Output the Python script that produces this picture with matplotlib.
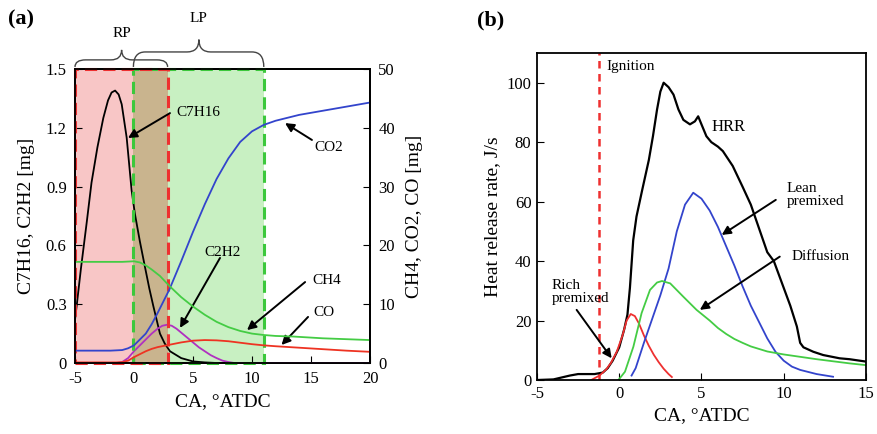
import matplotlib
matplotlib.use('Agg')
import matplotlib.pyplot as plt
from matplotlib.path import Path
from matplotlib.patches import PathPatch, Rectangle

plt.rcParams['font.family'] = ['Liberation Serif', 'DejaVu Serif']
plt.rcParams['axes.unicode_minus'] = False

# ---- panel (a): species mass vs crank angle ----
ca_c7h16 = [-5, -4.86, -4.5, -4.0, -3.6, -3.1, -2.6, -2.2, -1.9, -1.6, -1.3, -1.04, -0.62, -0.2,
            0.08, 0.5, 0.93, 1.3, 1.64, 2.2, 2.6, 3.05, 4.0, 5.0, 6.0, 7.0, 8.0, 20]
c7h16 = [0.22, 0.29, 0.48, 0.72, 0.92, 1.1, 1.25, 1.34, 1.38, 1.39, 1.37, 1.32, 1.15, 0.88,
         0.76, 0.62, 0.49, 0.38, 0.29, 0.15, 0.1, 0.06, 0.025, 0.008, 0.003, 0.0, 0.0, 0.0]

ca_c2h2 = [-5, -1.5, -1.0, -0.5, 0.0, 0.5, 1.0, 1.5, 2.0, 2.4, 2.8, 3.2, 3.6, 4.0, 4.5,
           5.0, 5.5, 6.0, 6.5, 7.0, 7.5, 8.0, 8.5, 20]
c2h2 = [0.0, 0.0, 0.005, 0.025, 0.06, 0.09, 0.12, 0.15, 0.175, 0.19, 0.195, 0.19, 0.175, 0.155, 0.13,
        0.105, 0.08, 0.06, 0.04, 0.025, 0.012, 0.005, 0.0, 0.0]

ca_co2 = [-5, -2, -1, -0.5, 0.0, 0.5, 1.0, 1.5, 2.0, 3.0, 4.0, 5.0, 6.0, 7.0, 8.0, 9.0,
          10.0, 11.0, 12.0, 14.0, 16.0, 18.0, 20.0]
co2 = [2.1, 2.1, 2.2, 2.5, 3.0, 4.0, 5.0, 6.6, 8.5, 12.5, 17.3, 22.3, 27.0, 31.3, 34.8, 37.6,
       39.4, 40.5, 41.2, 42.2, 42.9, 43.6, 44.3]

ca_ch4 = [-5, -2, -1, 0.0, 0.5, 1.0, 1.5, 2.2, 3.0, 4.0, 5.0, 6.0, 7.0, 8.0, 9.0, 10.0,
          11.0, 12.0, 13.5, 16.0, 20.0]
ch4 = [17.2, 17.2, 17.2, 17.3, 17.1, 16.6, 15.9, 14.8, 13.1, 11.2, 9.6, 8.2, 7.0, 6.1, 5.45, 5.0,
       4.76, 4.6, 4.5, 4.2, 3.9]

ca_co = [-5, -1.5, -1.0, -0.5, 0.0, 0.5, 1.0, 1.5, 2.0, 3.0, 4.0, 5.0, 6.0, 7.0, 8.0, 9.0,
         10.0, 11.0, 12.0, 14.0, 16.0, 18.0, 20.0]
co = [0.1, 0.1, 0.15, 0.4, 1.0, 1.5, 2.0, 2.4, 2.7, 3.1, 3.5, 3.8, 3.9, 3.85, 3.7, 3.45,
      3.2, 3.0, 2.85, 2.6, 2.35, 2.1, 1.9]

# combustion phase windows (crank angle)
rp_start, rp_end = -5.0, 2.85
lp_start, lp_end = -0.05, 11.0

# ---- panel (b): heat release rate ----
ca_hrr = [-5, -4, -3, -2.5, -1.5, -1.0, -0.7, -0.4, 0.0, 0.3, 0.5, 0.65, 0.85, 1.05, 1.4, 1.8,
          2.05, 2.3, 2.5, 2.7, 3.0, 3.3, 3.6, 3.9, 4.3, 4.6, 4.8, 5.0, 5.3, 5.6, 6.0, 6.3,
          6.9, 7.5, 8.0, 8.5, 9.0, 9.4, 10.0, 10.4, 10.8, 11.0, 11.2, 11.8, 12.4, 13.4, 14.0, 15.0]
hrr = [0, 0.2, 1.5, 2.0, 2.0, 2.5, 4, 6.5, 11, 17, 22, 31, 47, 55, 64, 74,
       82, 91, 97, 100, 98.5, 96, 91, 87.5, 86, 87, 88.7, 86, 82, 80, 78.5, 77,
       72, 65, 59, 51, 43, 40, 31, 25, 18, 12.5, 11, 9.5, 8.4, 7.3, 7.0, 6.2]

ca_rich = [-1.7, -1.2, -0.8, -0.5, -0.15, 0.2, 0.45, 0.7, 0.95, 1.2, 1.5, 1.8, 2.1, 2.4, 2.7, 3.0, 3.2]
rich = [0, 1.5, 3.5, 5.8, 9.5, 15, 20, 22.2, 21.5, 19, 15, 11.5, 8.5, 6, 3.8, 2, 1]

ca_lean = [0.75, 1.0, 1.5, 2.0, 2.5, 3.0, 3.5, 4.0, 4.5, 5.0, 5.5, 6.0, 6.5, 7.0, 7.5, 8.0,
           8.5, 9.0, 9.5, 10.0, 10.5, 11.0, 12.0, 13.0]
lean = [1.5, 4, 12.5, 20.5, 28.5, 37.5, 50, 59, 63, 61, 57, 51.5, 45, 38.5, 31.5, 25,
        19.5, 14, 9.5, 6.5, 4.5, 3.4, 2.0, 1.1]

ca_diff = [-0.05, 0.35, 0.86, 1.36, 1.87, 2.3, 2.6, 3.1, 3.9, 4.7, 5.5, 6.0, 6.5, 7.0, 7.5,
           8.0, 9.0, 10.0, 11.0, 12.0, 13.0, 14.0, 15.0]
diff = [0, 2.8, 11.2, 22.5, 30.3, 32.8, 33.3, 32.5, 28, 23.6, 20, 17.5, 15.5, 13.8, 12.5,
        11.3, 9.6, 8.6, 7.8, 7.0, 6.3, 5.6, 5.0]

ignition_ca = -1.2


def draw_brace(ax, x0, x1, xm, y0, y1, y2, r):
    """Curly brace between x0 and x1 (data), y in axes fraction"""
    verts = [(x0, y0), (x0, y1), (x0 + r, y1),
             (xm - r, y1), (xm, y1), (xm, y2),
             (xm, y1), (xm + r, y1),
             (x1 - r, y1), (x1, y1), (x1, y0)]
    codes = [Path.MOVETO, Path.CURVE3, Path.CURVE3,
             Path.LINETO, Path.CURVE3, Path.CURVE3,
             Path.CURVE3, Path.CURVE3,
             Path.LINETO, Path.CURVE3, Path.CURVE3]
    patch = PathPatch(Path(verts, codes), fill=False, lw=1.0, color='#444444',
                      transform=ax.get_xaxis_transform(), clip_on=False)
    ax.add_patch(patch)


fig = plt.figure(figsize=(8.77, 4.34), dpi=100)

# ---------------- (a) ----------------
ax = fig.add_axes([0.0855, 0.1636, 0.3364, 0.6774])
ax.axvspan(rp_start, lp_start, color='#f8c6c6', lw=0, zorder=0)
ax.axvspan(lp_start, rp_end, color='#c9b48e', lw=0, zorder=0)
ax.axvspan(rp_end, lp_end, color='#c8f0c2', lw=0, zorder=0)

ax.plot(ca_c7h16, c7h16, color='black', lw=1.3, zorder=3)
ax.plot(ca_c2h2, c2h2, color='#b030c0', lw=1.3, zorder=3)
ax.add_patch(Rectangle((lp_start, 0), lp_end - lp_start, 1.5, fill=False, ls=(0, (4, 2)),
                       lw=2.2, ec='#3cc83c', zorder=4, clip_on=False))
ax.add_patch(Rectangle((rp_start, 0), rp_end - rp_start, 1.5, fill=False, ls=(0, (4, 2)),
                       lw=2.2, ec='#ee3030', zorder=5, clip_on=False))
ax.set_xlim(-5, 20)
ax.set_ylim(0, 1.5)
ax.set_xticks([-5, 0, 5, 10, 15, 20])
ax.set_yticks([0, 0.3, 0.6, 0.9, 1.2, 1.5])
ax.set_yticklabels(['0', '0.3', '0.6', '0.9', '1.2', '1.5'])
ax.tick_params(direction='in', length=5, labelsize=12, pad=6)
ax.set_xlabel('CA, °ATDC', fontsize=14, labelpad=4)
ax.set_ylabel('C7H16, C2H2 [mg]', fontsize=14, labelpad=8)

ax2 = ax.twinx()
ax2.plot(ca_co2, co2, color='#3344cc', lw=1.3)
ax2.plot(ca_ch4, ch4, color='#44cc44', lw=1.3)
ax2.plot(ca_co, co, color='#ee3322', lw=1.3)
ax2.set_ylim(0, 50)
ax2.set_yticks([0, 10, 20, 30, 40, 50])
ax2.tick_params(direction='in', length=5, labelsize=12, pad=6)
ax2.set_ylabel('CH4, CO2, CO [mg]', fontsize=14, labelpad=8)
for a in (ax, ax2):
    for s in a.spines.values():
        s.set_linewidth(1.3)

arrow = dict(arrowstyle='-|>', color='black', lw=1.4, mutation_scale=13, shrinkA=0, shrinkB=0)
ax.annotate('', xy=(-0.51, 1.148), xytext=(3.05, 1.275), arrowprops=arrow, zorder=6)
ax.text(3.6, 1.28, 'C7H16', fontsize=11, va='center', ha='left', zorder=6)
ax.annotate('', xy=(12.8, 1.224), xytext=(15.08, 1.138), arrowprops=arrow, zorder=6)
ax.text(15.3, 1.097, 'CO2', fontsize=11, va='center', ha='left')
ax.annotate('', xy=(3.9, 0.179), xytext=(7.29, 0.536), arrowprops=arrow, zorder=6)
ax.text(6.0, 0.566, 'C2H2', fontsize=11, va='center', ha='left', zorder=6)
ax.annotate('', xy=(9.58, 0.168), xytext=(14.5, 0.413), arrowprops=arrow, zorder=6)
ax.text(15.1, 0.423, 'CH4', fontsize=11, va='center', ha='left')
ax.annotate('', xy=(12.5, 0.092), xytext=(14.75, 0.235), arrowprops=arrow, zorder=6)
ax.text(15.2, 0.26, 'CO', fontsize=11, va='center', ha='left')

draw_brace(ax, rp_start, rp_end, -1.05, 1.007, 1.031, 1.065, 0.9)
draw_brace(ax, lp_start, lp_end, 5.5, 1.007, 1.058, 1.10, 1.0)
ax.text(-1.05, 1.122, 'RP', fontsize=11, ha='center', va='center', transform=ax.get_xaxis_transform())
ax.text(5.5, 1.173, 'LP', fontsize=11, ha='center', va='center', transform=ax.get_xaxis_transform())
fig.text(21 / 877, 1 - 19 / 434, '(a)', fontsize=16, fontweight='bold', ha='center', va='center')

# ---------------- (b) ----------------
bx = fig.add_axes([0.6123, 0.1244, 0.3751, 0.7535])
bx.axvline(ignition_ca, color='#ee3030', lw=1.8, ls=(0, (3, 2.2)))
bx.plot(ca_hrr, hrr, color='black', lw=1.6)
bx.plot(ca_rich, rich, color='#ee3030', lw=1.3)
bx.plot(ca_lean, lean, color='#3344cc', lw=1.3)
bx.plot(ca_diff, diff, color='#44cc44', lw=1.3)
bx.set_xlim(-5, 15)
bx.set_ylim(0, 110)
bx.set_xticks([-5, 0, 5, 10, 15])
bx.set_yticks([0, 20, 40, 60, 80, 100])
bx.tick_params(direction='in', length=5, labelsize=12, pad=4)
for s in bx.spines.values():
    s.set_linewidth(1.3)
bx.set_xlabel('CA, °ATDC', fontsize=14, labelpad=4)
bx.set_ylabel('Heat release rate, J/s', fontsize=14, labelpad=4)

bx.text(-0.75, 105.4, 'Ignition', fontsize=11, va='center', ha='left')
bx.text(5.64, 85.2, 'HRR', fontsize=12, va='center', ha='left')
bx.text(10.2, 62.3, 'Lean\npremixed', fontsize=11, va='center', ha='left', linespacing=1.0)
bx.annotate('', xy=(6.23, 48.8), xytext=(9.52, 60.6), arrowprops=arrow)
bx.text(10.48, 41.5, 'Diffusion', fontsize=11, va='center', ha='left')
bx.annotate('', xy=(4.9, 23.6), xytext=(9.76, 41.5), arrowprops=arrow)
bx.text(-4.1, 29.7, 'Rich\npremixed', fontsize=11, va='center', ha='left', linespacing=1.0)
bx.annotate('', xy=(-0.46, 7.3), xytext=(-2.59, 23.6), arrowprops=arrow)
fig.text(491 / 877, 1 - 20 / 434, '(b)', fontsize=16, fontweight='bold', ha='center', va='center')

fig.savefig('out.png', dpi=100)
